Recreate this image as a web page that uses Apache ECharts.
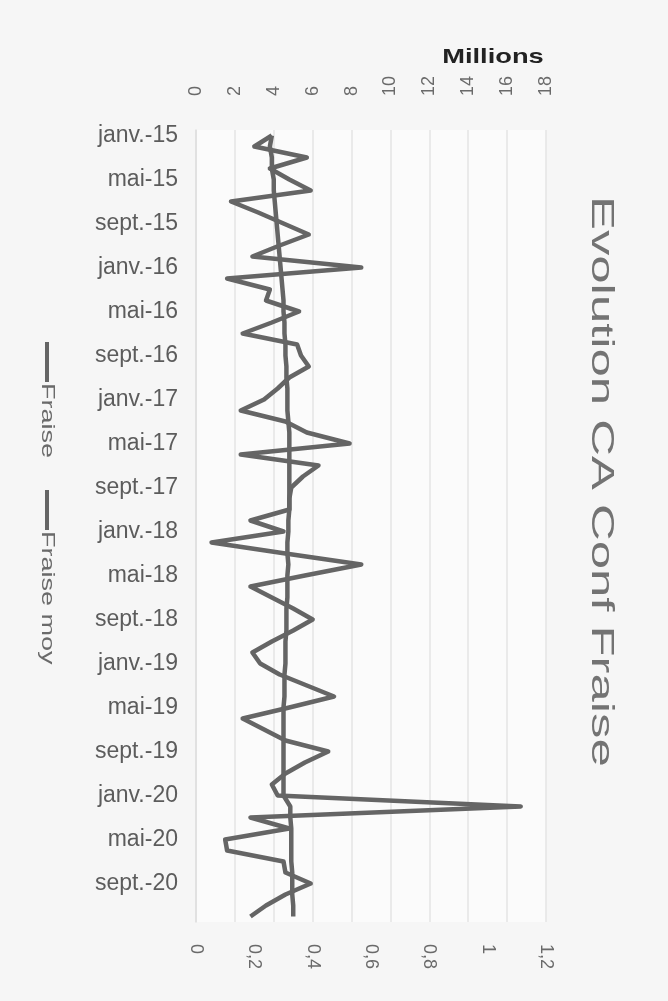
<!DOCTYPE html>
<html>
<head>
<meta charset="utf-8">
<script src="https://cdn.jsdelivr.net/npm/echarts@6/dist/echarts.min.js"></script>
<style>
  html, body { margin: 0; padding: 0; background: #f6f6f6; }
  #chart { width: 668px; height: 1001px; }
</style>
</head>
<body>
<div id="chart"></div>
<script>
// Month labels, January 2015 to December 2020
const monthNames = ['janv.', 'févr.', 'mars', 'avr.', 'mai', 'juin', 'juil.', 'août', 'sept.', 'oct.', 'nov.', 'déc.'];
const years = ['15', '16', '17', '18', '19', '20'];

// Monthly turnover, millions
const fraise = [
  3.9, 3.0, 5.7, 3.8, 4.8, 5.9, 1.8, 3.2, 4.5, 5.8, 4.3, 2.9,
  8.5, 1.6, 3.8, 3.6, 5.3, 3.9, 2.4, 5.2, 5.4, 5.8, 4.8, 4.2,
  3.5, 2.3, 4.6, 5.7, 7.9, 2.3, 6.3, 5.5, 4.9, 4.8, 4.8, 2.8,
  4.5, 0.8, 4.6, 8.5, 5.6, 2.8, 3.9, 5.0, 6.0, 5.0, 3.9, 2.9,
  3.3, 4.3, 5.7, 7.1, 4.8, 2.4, 3.5, 4.6, 6.8, 5.6, 4.6, 3.9,
  4.2, 16.7, 2.8, 4.8, 1.5, 1.6, 4.5, 4.6, 5.9, 4.6, 3.6, 2.8
];

// Running average, millions
const fraiseMoy = [
  3.9, 3.8, 3.9, 3.9, 4.0, 4.0, 4.05, 4.1, 4.15, 4.2, 4.25, 4.3,
  4.35, 4.4, 4.45, 4.5, 4.5, 4.55, 4.55, 4.6, 4.6, 4.65, 4.65, 4.7,
  4.7, 4.7, 4.75, 4.8, 4.8, 4.8, 4.8, 4.8, 4.8, 4.8, 4.8, 4.75,
  4.75, 4.7, 4.7, 4.75, 4.7, 4.7, 4.7, 4.65, 4.65, 4.65, 4.6, 4.6,
  4.6, 4.55, 4.55, 4.55, 4.5, 4.5, 4.5, 4.5, 4.5, 4.5, 4.5, 4.5,
  4.5, 4.85, 4.85, 4.9, 4.9, 4.9, 4.9, 4.95, 4.95, 4.95, 5.0, 5.0
];

const categories = [];
years.forEach(y => monthNames.forEach(m => categories.push(m + '-' + y)));

const FONT = '"Liberation Sans", Arial, sans-serif';
const LINE_GREY = '#656565';

const chart = echarts.init(document.getElementById('chart'), null, { renderer: 'canvas' });

chart.setOption({
  animation: false,
  backgroundColor: '#f6f6f6',
  grid: { left: 196, right: 122, top: 130, bottom: 79, containLabel: false, backgroundColor: '#fbfbfb', show: true, borderWidth: 0 },
  xAxis: [
    {
      type: 'value',
      position: 'top',
      min: 0, max: 18, interval: 2,
      axisLine: { show: false },
      axisTick: { show: false },
      axisLabel: { rotate: -90, margin: 34, fontSize: 18, color: '#6a6a6a', fontFamily: FONT },
      splitLine: { show: true, lineStyle: { color: '#e4e4e4', width: 1.5 } }
    },
    {
      type: 'value',
      position: 'bottom',
      min: 0, max: 1.2, interval: 0.2,
      axisLine: { show: false },
      axisTick: { show: false },
      splitLine: { show: false },
      axisLabel: {
        rotate: -90, margin: 22, fontSize: 18, color: '#6a6a6a', fontFamily: FONT,
        formatter: v => String(+v.toFixed(1)).replace('.', ',')
      }
    }
  ],
  yAxis: {
    type: 'category',
    data: categories,
    inverse: true,
    boundaryGap: true,
    axisLine: { show: true, lineStyle: { color: '#dedede', width: 1.5 } },
    axisTick: { show: false },
    axisLabel: { interval: 3, fontSize: 23, color: '#5c5c5c', fontFamily: FONT, margin: 18 }
  },
  series: [
    {
      name: 'Fraise', type: 'line', xAxisIndex: 0, data: fraise,
      symbol: 'none', lineStyle: { color: LINE_GREY, width: 4.5, join: 'round' }
    },
    {
      name: 'Fraise moy', type: 'line', xAxisIndex: 0, data: fraiseMoy,
      symbol: 'none', lineStyle: { color: LINE_GREY, width: 4.5 }
    }
  ],
  graphic: [
    // Title, turned to read downwards
    {
      type: 'text', x: 601, y: 196, rotation: -Math.PI / 2, scaleX: 1.64,
      style: { text: 'Evolution CA Conf Fraise', font: '31px ' + FONT, fill: '#737373', verticalAlign: 'middle' }
    },
    // Unit label of the top axis
    {
      type: 'text', x: 493, y: 57, scaleX: 1.3,
      style: { text: 'Millions', font: 'bold 21px ' + FONT, fill: '#222222', align: 'center', verticalAlign: 'middle' }
    },
    // Legend, turned to read downwards
    {
      type: 'group', x: 47, y: 342, rotation: -Math.PI / 2,
      children: [
        { type: 'line', shape: { x1: 0, y1: 0, x2: 40, y2: 0 }, style: { stroke: LINE_GREY, lineWidth: 4 } },
        { type: 'text', x: 41, y: 0, scaleX: 1.5, style: { text: 'Fraise', font: '18px ' + FONT, fill: '#6a6a6a', verticalAlign: 'middle' } },
        { type: 'line', shape: { x1: 148, y1: 0, x2: 188, y2: 0 }, style: { stroke: LINE_GREY, lineWidth: 4 } },
        { type: 'text', x: 189, y: 0, scaleX: 1.5, style: { text: 'Fraise moy', font: '18px ' + FONT, fill: '#6a6a6a', verticalAlign: 'middle' } }
      ]
    }
  ]
});
</script>
</body>
</html>
